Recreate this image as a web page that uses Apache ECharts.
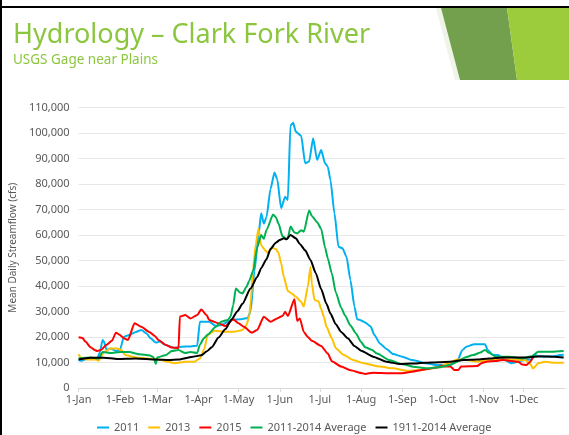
<!DOCTYPE html>
<html><head><meta charset="utf-8">
<script src="https://cdn.jsdelivr.net/npm/echarts@6/dist/echarts.min.js"></script>
<style>html,body{margin:0;padding:0;background:#fff}#c{width:569px;height:435px}</style>
</head><body><div id="c"></div>
<script>
// ---- tick labels / categories ----
const monthStartDays = [0,31,59,90,120,151,181,212,243,273,304,334];
const monthLabels = ['1-Jan','1-Feb','1-Mar','1-Apr','1-May','1-Jun','1-Jul','1-Aug','1-Sep','1-Oct','1-Nov','1-Dec'];
const seriesNames = ['2011','2013','2015','2011-2014 Average','1911-2014 Average'];

// ---- 2011 (day of year, cfs) ----
const days2011 = [0,2,7,14,16,18,19,21,24,28,31,34,38,43,47,51,54,58,61,65,72,77,84,89,91,96,98,103,107,115,122,127,129,132,135,137,139,141,144,147,149,152,155,157,159,161,163,167,170,173,176,179,182,185,187,189,192,195,198,201,204,207,209,211,215,219,222,226,231,236,243,250,253,260,270,275,279,284,288,291,297,305,307,311,315,318,325,329,335,340,342,347,357,361,364];
const flow2011 = [11000,10700,11600,11600,14000,18800,18200,15000,15500,14500,14900,20100,20800,22000,22700,21400,19500,17800,18200,17000,15700,16200,16300,16600,26000,26000,26000,24300,24700,26700,27000,27500,30000,46000,60000,68500,64500,67000,78000,84500,82000,70500,75000,73700,103000,104000,100500,99000,88100,88800,97900,89400,93300,88100,86800,81500,68500,55400,54800,51500,42300,31900,27000,26700,25700,24200,20800,17500,15300,13300,12300,11000,10700,9700,9000,9000,9700,10300,14900,16200,17200,17200,14900,12900,12900,11600,9700,10300,11000,11200,12900,12300,12500,12900,13000];

// ---- 2013 ----
const days2013 = [0,2,7,13,15,19,24,29,32,35,43,53,60,67,72,80,87,91,94,97,102,110,117,123,126,128,129,131,133,135,137,140,142,145,148,150,152,154,157,160,163,167,169,172,174,175,177,180,182,184,186,190,193,199,206,214,226,236,246,255,265,270,277,284,289,299,311,323,335,339,341,345,350,357,364];
const flow2013 = [13300,11600,11200,11200,10700,14100,15500,15500,14900,12900,12000,11500,11200,10300,9700,10300,10300,11600,15000,20800,22500,22100,22100,22700,24700,28000,33000,47000,56600,62500,56000,54000,53000,55000,54500,53000,48900,43600,38000,37100,35800,33800,31900,39700,47500,41000,34500,34000,31000,28000,24000,19500,15600,12900,11000,9700,8400,7700,6800,7000,7700,8100,9700,11200,11200,10300,11200,11200,11000,9400,7700,9700,10300,9900,9900];

// ---- 2015 ----
const days2015 = [0,3,5,9,12,14,17,21,25,28,31,34,37,42,47,53,57,60,65,70,75,76,80,84,89,92,96,98,105,110,116,120,124,130,134,139,144,149,153,155,157,162,164,166,169,172,175,182,187,190,197,204,213,215,221,233,243,250,260,270,272,275,279,282,285,287,299,303,306,313,318,323,330,333,336,339,341];
const flow2015 = [19900,19600,18200,16000,14900,14500,15000,17000,18500,21700,20800,19500,18800,25400,24000,22000,20500,18800,17000,15900,15700,28000,28600,27300,28600,30800,28600,26700,25400,24300,27000,25400,24000,21700,22700,27900,26000,27300,28200,29900,28200,34800,26300,27300,22000,20000,18500,16500,13500,10500,8400,7000,5800,5500,6000,5800,5800,6400,7300,8100,8600,8400,8400,7100,7100,8400,8600,9900,10300,10600,11000,10700,10300,9200,9000,10300,12200];

// ---- 2011-2014 Average ----
const daysAvg1114 = [0,9,15,18,24,31,38,46,53,56,58,59,65,70,75,80,84,89,91,94,97,103,107,112,114,116,118,121,123,126,128,131,134,137,139,141,146,148,150,153,156,157,159,162,164,167,169,173,175,179,182,185,187,190,193,197,200,204,208,212,215,220,224,233,243,253,262,270,279,286,290,296,301,305,308,313,323,333,340,345,355,364];
const flowAvg1114 = [11600,12000,11600,14100,13700,14100,14100,13200,12800,12200,9500,12000,12800,14500,14900,13700,14100,13700,17000,19500,21000,24000,26000,26700,28000,32500,39000,37500,37100,39700,42000,46000,55000,60000,58500,62000,68000,67000,64500,59500,58500,58700,63300,61000,60600,61900,61300,69600,67500,65000,62500,55000,50800,45000,37500,31500,28400,24500,21500,18000,16000,15000,13500,11000,9300,8200,7700,8100,9000,10800,12000,12900,13800,14900,13800,12300,12300,11600,12500,14200,14200,14500];

// ---- 1911-2014 Average ----
const daysAvgLong = [0,9,19,29,43,58,68,75,85,92,96,100,105,110,115,119,123,129,134,137,141,144,148,151,154,156,159,163,166,170,174,178,182,186,189,193,197,202,207,212,221,231,241,250,260,270,279,289,299,308,318,328,337,347,357,364];
const flowAvgLong = [11200,11900,11900,11400,11600,11200,11000,11200,12200,12800,14300,16000,19800,23000,27000,30000,33000,39000,43500,47000,50500,54500,57000,58000,58700,58300,60000,58700,56500,54000,50200,45000,38800,33000,29200,25000,22000,19500,16500,14600,12300,10300,9400,9600,9900,10100,10300,11000,11200,11600,12000,12000,12000,12500,12300,12000];

const seriesColors = ['#00b0f0','#ffc000','#ff0000','#00b050','#000000'];
const allDays = [days2011, days2013, days2015, daysAvg1114, daysAvgLong];
const allFlows = [flow2011, flow2013, flow2015, flowAvg1114, flowAvgLong];

const FONT = '"Noto Sans", sans-serif';
const AXIS_TXT = '#595959';

const chart = echarts.init(document.getElementById('c'), null, {renderer: 'canvas'});

const series = seriesNames.map((name, i) => ({
  name,
  type: 'line',
  data: allDays[i].map((d, j) => [d, allFlows[i][j]]),
  showSymbol: false,
  symbol: 'none',
  smooth: 0.2,
  smoothMonotone: 'x',
  lineStyle: {width: 2, color: seriesColors[i]},
  itemStyle: {color: seriesColors[i]},
  emphasis: {disabled: true},
  animation: false
}));

chart.setOption({
  animation: false,
  backgroundColor: '#ffffff',
  grid: {left: 62, right: 4, top: 107.5, bottom: 47, containLabel: false},
  xAxis: {
    type: 'value', min: 0, max: 365,
    axisLine: {show: true, lineStyle: {color: '#d9d9d9', width: 1}},
    axisTick: {show: true, length: 4, lineStyle: {color: '#d9d9d9'}, customValues: monthStartDays},
    axisLabel: {
      customValues: monthStartDays,
      formatter: v => monthLabels[monthStartDays.indexOf(v)] || '',
      color: AXIS_TXT, fontFamily: FONT, fontSize: 11, margin: 6
    },
    splitLine: {show: false}
  },
  yAxis: {
    type: 'value', min: 0, max: 110000, interval: 10000,
    name: 'Mean Daily Streamflow (cfs)',
    nameLocation: 'middle', nameGap: 54, nameRotate: 90,
    nameTextStyle: {color: AXIS_TXT, fontFamily: FONT, fontSize: 10},
    axisLine: {show: false}, axisTick: {show: false},
    axisLabel: {color: AXIS_TXT, fontFamily: FONT, fontSize: 11, margin: 9,
      formatter: v => v.toLocaleString('en-US')},
    splitLine: {show: true, lineStyle: {color: '#e6e6e6', width: 1}}
  },
  legend: {
    data: seriesNames,
    left: 92, top: 417,
    icon: 'rect', itemWidth: 12, itemHeight: 2, itemGap: 9,
    textStyle: {color: AXIS_TXT, fontFamily: FONT, fontSize: 11},
    selectedMode: false
  },
  graphic: [
    {type: 'rect', shape: {x: 0, y: 6, width: 569, height: 2}, style: {fill: '#000'}, silent: true},
    {type: 'rect', shape: {x: 0, y: 0, width: 2, height: 435}, style: {fill: '#000'}, silent: true},
    {type: 'polygon', shape: {points: [[436,8],[441,8],[460,80],[455,80]]}, style: {fill: '#eef4e8'}, silent: true},
    {type: 'polygon', shape: {points: [[441,8],[507,8],[517,80],[460,80]]}, style: {fill: '#72a04c'}, silent: true},
    {type: 'polygon', shape: {points: [[507,8],[569,8],[569,80],[517,80]]}, style: {fill: '#9ccb3c'}, silent: true},
    {type: 'text', left: 13, top: 22, style: {text: 'Hydrology – Clark Fork River', fill: '#8cc63f', font: '27px "Noto Sans", sans-serif'}, silent: true},
    {type: 'text', left: 13, top: 53, style: {text: 'USGS Gage near Plains', fill: '#8cc63f', font: '13.5px "Noto Sans", sans-serif'}, silent: true}
  ],
  series
});
</script></body></html>
